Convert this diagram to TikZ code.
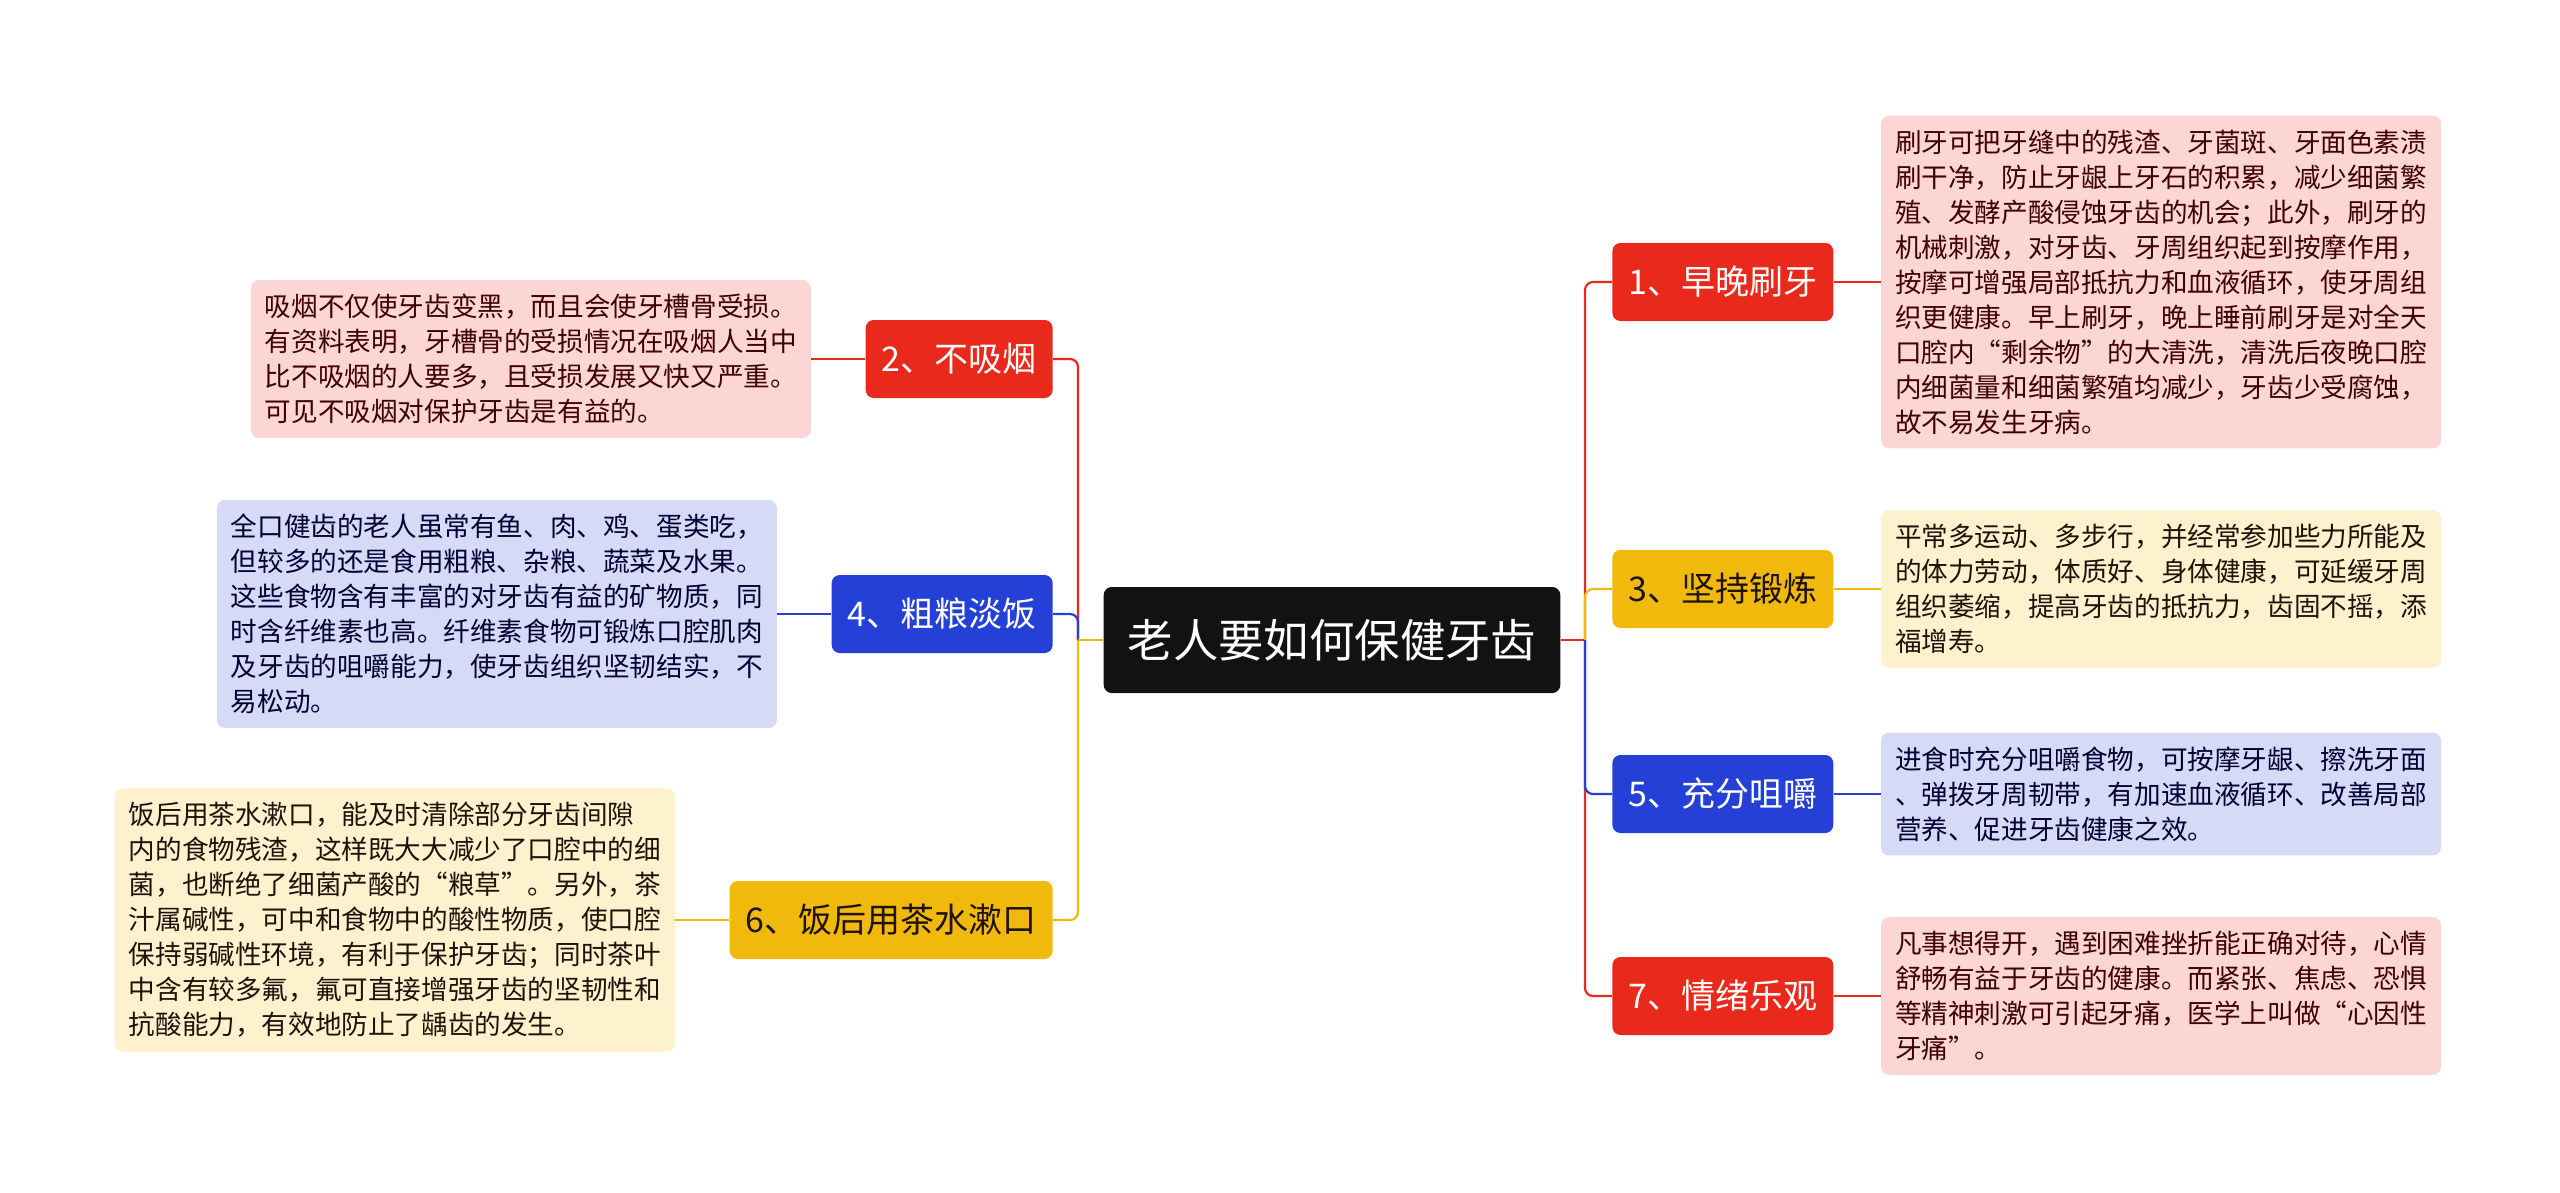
\documentclass[tikz,border=0pt]{standalone}
\usepackage{fontspec}
\newfontfamily\cjk{Noto Sans CJK SC}
\usetikzlibrary{positioning}

\definecolor{tred}{HTML}{E9291C}
\definecolor{tyel}{HTML}{F0B90C}
\definecolor{tblu}{HTML}{2440D6}
\definecolor{lred}{HTML}{FCD5D5}
\definecolor{lyel}{HTML}{FDF2CD}
\definecolor{lblu}{HTML}{D6DAF6}

\begin{document}
\begin{tikzpicture}[
  x=0.5pt, y=-0.5pt,
  font=\cjk,
  every node/.style={align=left},
  root/.style={fill=black!93, rounded corners=4pt, text=white, inner xsep=12pt, minimum height=53pt, font=\cjk\fontsize{22.7}{26}\selectfont},
  topic/.style={rounded corners=4pt, inner xsep=8pt, minimum height=39pt, font=\cjk\fontsize{17}{20}\selectfont},
  redtopic/.style={topic, fill=tred, text=white},
  yeltopic/.style={topic, fill=tyel, text=black!85!brown},
  blutopic/.style={topic, fill=tblu, text=white},
  leaf/.style={rounded corners=4pt, text width=266pt, inner xsep=7pt, inner ysep=7pt, font=\cjk\fontsize{13.3}{17.5}\selectfont},
  redleaf/.style={leaf, fill=lred, text=black!75!red},
  yelleaf/.style={leaf, fill=lyel, text=black!85!brown},
  bluleaf/.style={leaf, fill=lblu, text=black!80!blue},
  link/.style={line width=1.1pt, rounded corners=4pt},
]
\useasboundingbox (0,0) rectangle (2560,1193);

\node[root] (root) at (1332,640) {老人要如何保健牙齿};

\node[redtopic, anchor=west] (n1) at (1612,282) {1、早晚刷牙};
\node[yeltopic, anchor=west] (n3) at (1612,589) {3、坚持锻炼};
\node[blutopic, anchor=west] (n5) at (1612,794) {5、充分咀嚼};
\node[redtopic, anchor=west] (n7) at (1612,996) {7、情绪乐观};
\node[redtopic, anchor=east] (n2) at (1053,359) {2、不吸烟};
\node[blutopic, anchor=east] (n4) at (1053,614) {4、粗粮淡饭};
\node[yeltopic, anchor=east] (n6) at (1053,920) {6、饭后用茶水漱口};

\node[redleaf, right=23.5pt of n1] (d1) {刷牙可把牙缝中的残渣、牙菌斑、牙面色素渍\\刷干净，防止牙龈上牙石的积累，减少细菌繁\\殖、发酵产酸侵蚀牙齿的机会；此外，刷牙的\\机械刺激，对牙齿、牙周组织起到按摩作用，\\按摩可增强局部抵抗力和血液循环，使牙周组\\织更健康。早上刷牙，晚上睡前刷牙是对全天\\口腔内“剩余物”的大清洗，清洗后夜晚口腔\\内细菌量和细菌繁殖均减少，牙齿少受腐蚀，\\故不易发生牙病。};
\node[yelleaf, right=23.5pt of n3] (d3) {平常多运动、多步行，并经常参加些力所能及\\的体力劳动，体质好、身体健康，可延缓牙周\\组织萎缩，提高牙齿的抵抗力，齿固不摇，添\\福增寿。};
\node[bluleaf, right=23.5pt of n5] (d5) {进食时充分咀嚼食物，可按摩牙龈、擦洗牙面\\、弹拨牙周韧带，有加速血液循环、改善局部\\营养、促进牙齿健康之效。};
\node[redleaf, right=23.5pt of n7] (d7) {凡事想得开，遇到困难挫折能正确对待，心情\\舒畅有益于牙齿的健康。而紧张、焦虑、恐惧\\等精神刺激可引起牙痛，医学上叫做“心因性\\牙痛”。};
\node[redleaf, left=27pt of n2] (d2) {吸烟不仅使牙齿变黑，而且会使牙槽骨受损。\\有资料表明，牙槽骨的受损情况在吸烟人当中\\比不吸烟的人要多，且受损发展又快又严重。\\可见不吸烟对保护牙齿是有益的。};
\node[bluleaf, left=27pt of n4] (d4) {全口健齿的老人虽常有鱼、肉、鸡、蛋类吃，\\但较多的还是食用粗粮、杂粮、蔬菜及水果。\\这些食物含有丰富的对牙齿有益的矿物质，同\\时含纤维素也高。纤维素食物可锻炼口腔肌肉\\及牙齿的咀嚼能力，使牙齿组织坚韧结实，不\\易松动。};
\node[yelleaf, left=27pt of n6] (d6) {饭后用茶水漱口，能及时清除部分牙齿间隙\\内的食物残渣，这样既大大减少了口腔中的细\\菌，也断绝了细菌产酸的“粮草”。另外，茶\\汁属碱性，可中和食物中的酸性物质，使口腔\\保持弱碱性环境，有利于保护牙齿；同时茶叶\\中含有较多氟，氟可直接增强牙齿的坚韧性和\\抗酸能力，有效地防止了龋齿的发生。};

\coordinate (rt) at (1585,640);
\coordinate (lt) at (1078,640);

\draw[link, tred] (root.east) -- (rt);
\draw[link, tred] (rt) |- (n1.west);
\draw[link, tyel] (rt) |- (n3.west);
\draw[link, tred] (rt) |- (n7.west);
\draw[link, tblu] (rt) |- (n5.west);
\draw[link, tred] (lt) |- (n2.east);
\draw[link, tyel] (lt) |- (n6.east);
\draw[link, tblu] (lt) |- (n4.east);
\draw[link, tyel] (root.west) -- (lt);

\draw[link, tred] (n1) -- (d1);
\draw[link, tyel] (n3) -- (d3);
\draw[link, tblu] (n5) -- (d5);
\draw[link, tred] (n7) -- (d7);
\draw[link, tred] (n2) -- (d2);
\draw[link, tblu] (n4) -- (d4);
\draw[link, tyel] (n6) -- (d6);
\end{tikzpicture}
\end{document}
